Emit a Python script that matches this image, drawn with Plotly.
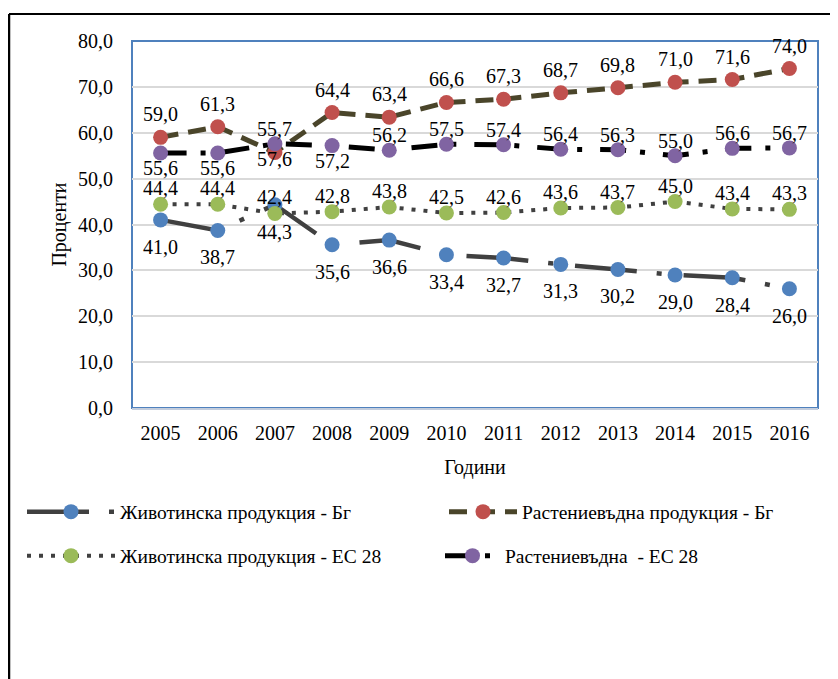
import plotly.graph_objects as go

years = ["2005", "2006", "2007", "2008", "2009", "2010", "2011", "2012", "2013", "2014", "2015", "2016"]
animal_bg = [41.0, 38.7, 44.3, 35.6, 36.6, 33.4, 32.7, 31.3, 30.2, 29.0, 28.4, 26.0]
crop_bg = [59.0, 61.3, 55.7, 64.4, 63.4, 66.6, 67.3, 68.7, 69.8, 71.0, 71.6, 74.0]
animal_eu = [44.4, 44.4, 42.4, 42.8, 43.8, 42.5, 42.6, 43.6, 43.7, 45.0, 43.4, 43.3]
crop_eu = [55.6, 55.6, 57.6, 57.2, 56.2, 57.5, 57.4, 56.4, 56.3, 55.0, 56.6, 56.7]

names = ["Животинска продукция - Бг", "Растениевъдна продукция - Бг",
         "Животинска продукция - ЕС 28", "Растениевъдна  - ЕС 28"]
x_title = "Години"
y_title = "Проценти"

FONT = "Liberation Serif, Times New Roman, serif"

series = [
    dict(y=animal_bg, name=names[0], lc="#404040", lw=4.5, dash="62px,20px,5px,22px", mc="#4f81bd",
         legend="legend", yshift=-27),
    dict(y=crop_bg, name=names[1], lc="#4a452a", lw=5, dash="18px,10px", mc="#c0504d",
         legend="legend2", yshift=23),
    dict(y=animal_eu, name=names[2], lc="#404040", lw=4, dash="4px,8px", mc="#9bbb59",
         legend="legend3", yshift=16),
    dict(y=crop_eu, name=names[3], lc="#000000", lw=5, dash="26px,14px,5px,18px", mc="#8064a2",
         legend="legend4", yshift=None),
]

fig = go.Figure()
for s in series:
    fig.add_trace(go.Scatter(
        x=years, y=s["y"], name=s["name"], mode="lines+markers",
        line=dict(color=s["lc"], width=s["lw"], dash=s["dash"]),
        marker=dict(color=s["mc"], size=15, line=dict(width=0)),
        legend=s["legend"],
    ))

def fmt(v):
    return f"{v:.1f}".replace(".", ",")

annotations = []
for s in series:
    for i, v in enumerate(s["y"]):
        shift = s["yshift"] if s["yshift"] is not None else (-15 if i < 4 else 15)
        annotations.append(dict(
            x=i, y=v, xref="x", yref="y", text=fmt(v), showarrow=False, yshift=shift,
            font=dict(family=FONT, size=20, color="#000000"),
        ))

W, H = 838, 679
L, R, T, B = 124, 28, 33, 279
pw, ph = W - L - R, H - T - B

shapes = [
    dict(type="rect", xref="paper", yref="paper", x0=0, x1=1, y0=0, y1=1,
         line=dict(color="#4f81bd", width=2), layer="between"),
    dict(type="line", xref="paper", yref="paper",
         x0=(1 - L) / pw, x1=(W - L) / pw, y0=(H - B - 6) / ph, y1=(H - B - 6) / ph,
         line=dict(color="#000000", width=2)),
    dict(type="line", xref="paper", yref="paper",
         x0=(1 - L) / pw, x1=(1 - L) / pw, y0=(H - B - 6) / ph, y1=-B / ph,
         line=dict(color="#000000", width=2.5)),
]

def leg(x_px, y_px, iw):
    return dict(
        orientation="h", xref="container", yref="container",
        x=x_px / W, xanchor="left", y=1 - y_px / H, yanchor="middle",
        itemwidth=iw, font=dict(family=FONT, size=19.5), bgcolor="rgba(0,0,0,0)",
    )

fig.update_layout(
    width=W, height=H,
    margin=dict(l=L, r=R, t=T, b=B, autoexpand=False),
    paper_bgcolor="white", plot_bgcolor="white",
    separators=",.",
    font=dict(family=FONT, size=20, color="#000000"),
    xaxis=dict(
        type="category", range=[-0.5, 11.5], showgrid=False, zeroline=False,
        showline=True, linecolor="#c3cddd", linewidth=2,
        ticks="outside", ticklen=6, tickcolor="rgba(0,0,0,0)",
        tickfont=dict(family=FONT, size=20),
        title=dict(text=x_title, font=dict(family=FONT, size=20), standoff=17),
    ),
    yaxis=dict(
        range=[0, 80], dtick=10, tickformat=".1f", showgrid=True,
        gridcolor="#d9d9d9", gridwidth=1.5, zeroline=False, showline=False,
        ticks="outside", ticklen=14, tickcolor="rgba(0,0,0,0)",
        tickfont=dict(family=FONT, size=20),
        title=dict(text=y_title, font=dict(family=FONT, size=20), standoff=6),
    ),
    legend=leg(14, 504, 88),
    legend2=leg(436, 504, 68),
    legend3=leg(14, 548, 88),
    legend4=leg(432, 548, 55),
    annotations=annotations,
    shapes=shapes,
    showlegend=True,
)

fig.write_html("out.html")
